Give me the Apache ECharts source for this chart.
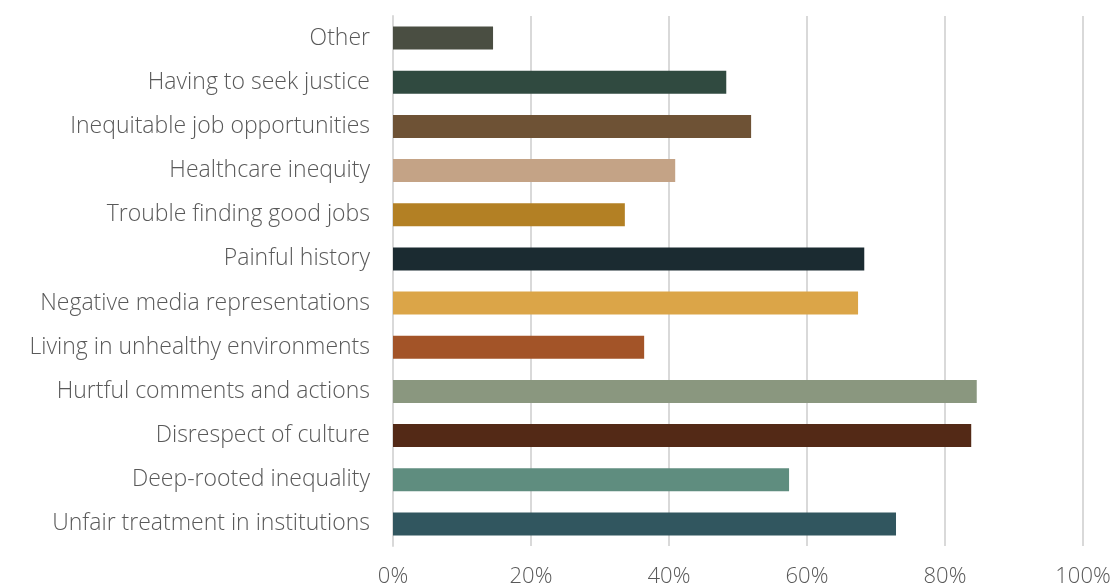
<!DOCTYPE html>
<html>
<head>
<meta charset="utf-8">
<script src="https://cdn.jsdelivr.net/npm/echarts@6/dist/echarts.min.js"></script>
<style>
  html, body { margin: 0; padding: 0; background: #ffffff; }
  #chart { width: 1118px; height: 588px; }
</style>
</head>
<body>
<div id="chart"></div>
<script>
// Categories listed bottom-to-top (category axis starts at the bottom)
const categories = [
  'Unfair treatment in institutions',
  'Deep-rooted inequality',
  'Disrespect of culture',
  'Hurtful comments and actions',
  'Living in unhealthy environments',
  'Negative media representations',
  'Painful history',
  'Trouble finding good jobs',
  'Healthcare inequity',
  'Inequitable job opportunities',
  'Having to seek justice',
  'Other'
];

// Share of respondents, percent
const values = [72.9, 57.4, 83.8, 84.6, 36.4, 67.4, 68.3, 33.6, 40.9, 51.9, 48.3, 14.5];

const barColors = [
  '#31565f', '#5f8d7f', '#532916', '#8a977f', '#a35428', '#dba548',
  '#1b2b31', '#b38024', '#c4a386', '#6e5235', '#304a40', '#4a4e42'
];

const xTicks = [0, 20, 40, 60, 80, 100];

const chart = echarts.init(document.getElementById('chart'), null, { renderer: 'canvas' });
const font = '"Open Sans", Lato, sans-serif';

chart.setOption({
  animation: false,
  grid: { left: 393, right: 35, top: 16, bottom: 42, containLabel: false },
  xAxis: {
    type: 'value',
    min: xTicks[0],
    max: xTicks[xTicks.length - 1],
    interval: 20,
    axisLine: { show: false },
    axisTick: { show: false },
    splitLine: { show: true, lineStyle: { color: '#d9d9d9', width: 2 } },
    axisLabel: {
      formatter: v => v + '%',
      color: '#595959',
      fontSize: 22,
      fontWeight: 300,
      fontFamily: font,
      margin: 20
    }
  },
  yAxis: {
    type: 'category',
    data: categories,
    axisLine: { show: true, lineStyle: { color: '#d9d9d9', width: 2 } },
    axisTick: { show: false },
    axisLabel: {
      color: '#595959',
      fontSize: 23,
      fontWeight: 300,
      fontFamily: font,
      margin: 23,
      padding: [3, 0, 0, 0]
    }
  },
  series: [{
    type: 'bar',
    barWidth: 23,
    data: values.map((v, i) => ({ value: v, itemStyle: { color: barColors[i] } }))
  }]
});
</script>
</body>
</html>
